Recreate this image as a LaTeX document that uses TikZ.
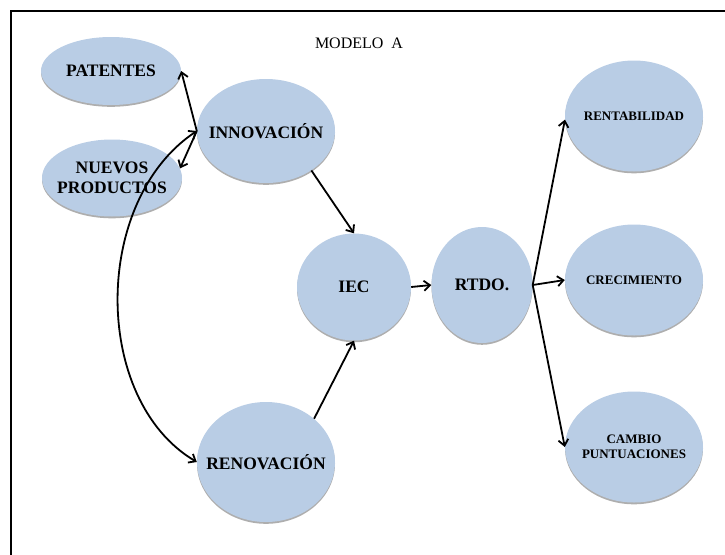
\documentclass[tikz,border=0pt]{standalone}
\usepackage{fontspec}
\setmainfont{Liberation Serif}
\usetikzlibrary{positioning,shapes.geometric,shadows,arrows.meta}
\definecolor{ovalblue}{HTML}{B9CDE5}

\begin{document}
\begin{tikzpicture}[
		x=1pt, y=-1pt,
		>={Straight Barb[length=6pt,width=10pt]},
		oval/.style={ellipse, fill=ovalblue, inner sep=-20pt, align=center, font=\bfseries\fontsize{17.5}{20}\selectfont, drop shadow={shadow xshift=0pt, shadow yshift=-1.8pt, fill=black!70, opacity=0.45}},
		result/.style={oval, minimum width=138pt, minimum height=111pt, font=\bfseries\fontsize{13}{15.5}\selectfont},
		link/.style={->, line width=1.8pt},
		]
		%Frame
		\clip (0,0) rectangle (725,554);
		\draw[line width=1.8pt] (11,11) rectangle (760,600);
		\node[font=\fontsize{16}{18}\selectfont]	(title)	at (359,43)	{MODELO\ \ A};

		%Main Nodes
		\node[oval, minimum width=140pt, minimum height=68pt]	(patentes)	at (111,71)		{PATENTES};
		\node[oval, minimum width=140pt, minimum height=77pt]	(nuevos)	at (112,178)	{NUEVOS\\PRODUCTOS};
		\node[oval, minimum width=138pt, minimum height=104pt]	(innov)		at (266,131)	{INNOVACIÓN};
		\node[oval, minimum width=138pt, minimum height=120pt]	(renov)		at (266,462)	{RENOVACIÓN};
		\node[oval, minimum width=114pt, minimum height=107pt]	(iec)		at (354,287)	{IEC};
		\node[oval, minimum width=101pt, minimum height=116pt]	(rtdo)		at (482,285)	{RTDO.};

		%Results
		\node[result]	(rent)		at (634,116)	{RENTABILIDAD};
		\node[result]	(crec)		at (634,280)	{CRECIMIENTO};
		\node[result]	(cambio)	at (634,447)	{CAMBIO\\PUNTUACIONES};

		%Main Lines
		\draw[link]	(innov.west)	--	(patentes.east);
		\draw[link]	(innov.west)	--	(nuevos.8);
		\draw[link, <->]	(innov.west)	.. controls +(-105,70) and +(-105,-62) ..	(renov.west);
		\draw[link]	(innov.-41)		--	(iec.north);
		\draw[link]	(renov.42)		--	(iec.south);
		\draw[link]	(iec.east)		--	(rtdo.west);

		%Rtdo.
		\draw[link]	(rtdo.east)	--	(rent.183);
		\draw[link]	(rtdo.east)	--	(crec.west);
		\draw[link]	(rtdo.east)	--	(cambio.west);

	\end{tikzpicture}
\end{document}
